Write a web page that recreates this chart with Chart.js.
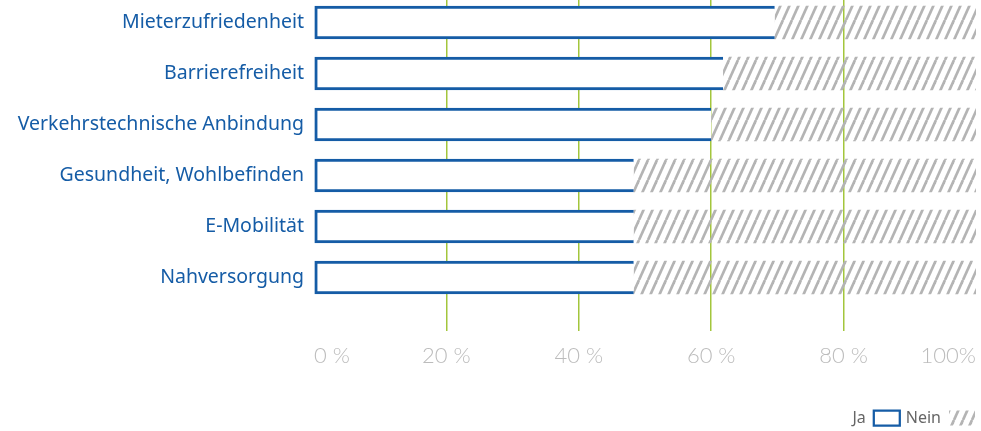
<!DOCTYPE html>
<html lang="de">
<head>
<meta charset="utf-8">
<title>Bewertung</title>
<script src="https://cdn.jsdelivr.net/npm/chart.js@4.4.1/dist/chart.umd.min.js"></script>
<style>
  html, body { margin: 0; padding: 0; background: #fff; }
  #wrap { position: relative; width: 981px; height: 431px; }
</style>
</head>
<body>
<div id="wrap"><canvas id="umfrage"></canvas></div>
<script>
const categories = [
  'Mieterzufriedenheit',
  'Barrierefreiheit',
  'Verkehrstechnische Anbindung',
  'Gesundheit, Wohlbefinden',
  'E-Mobilität',
  'Nahversorgung'
];
const jaValues = [69.6, 61.8, 60.0, 48.3, 48.3, 48.3];
const neinValues = [30.4, 38.2, 40.0, 51.7, 51.7, 51.7];
const xTicks = [0, 20, 40, 60, 80, 100];
const xTickLabels = ['0 %', '20 %', '40 %', '60 %', '80 %', '100%'];

const BLUE = '#155ca6';
const GRID = '#a3c63c';

// diagonal hatch for the "Nein" share
function makeHatch() {
  const w = 9, h = 20;
  const c = document.createElement('canvas');
  c.width = w; c.height = h;
  const g = c.getContext('2d');
  g.strokeStyle = '#b4b4b4';
  g.lineWidth = 2.7;
  for (let k = -1; k <= 1; k++) {
    g.beginPath();
    g.moveTo(k * w, h);
    g.lineTo(k * w + w, 0);
    g.stroke();
  }
  return g.createPattern(c, 'repeat');
}
const hatch = makeHatch();

const toPoints = arr => arr.map((v, i) => ({ x: v, y: i }));

new Chart(document.getElementById('umfrage'), {
  type: 'bar',
  data: {
    datasets: [
      {
        label: 'Ja',
        data: toPoints(jaValues),
        backgroundColor: '#ffffff',
        borderColor: BLUE,
        borderWidth: { left: 3, top: 3, bottom: 3, right: 0 },
        borderSkipped: false
      },
      {
        label: 'Nein',
        data: toPoints(neinValues),
        backgroundColor: hatch,
        borderWidth: 0
      }
    ]
  },
  options: {
    indexAxis: 'y',
    responsive: true,
    maintainAspectRatio: false,
    animation: false,
    barThickness: 33,
    layout: { padding: { top: 0, right: 0, left: 0, bottom: -5 } },
    scales: {
      x: {
        stacked: true,
        min: 0,
        max: 100,
        afterBuildTicks: scale => { scale.ticks = xTicks.map(v => ({ value: v })); },
        afterFit: scale => {
          scale.height = 73;
          scale.paddingLeft = 0;
          scale.paddingRight = 5;
        },
        grid: {
          drawTicks: false,
          lineWidth: 1.5,
          color: ctx => (ctx.tick && (ctx.tick.value === 0 || ctx.tick.value === 100)) ? 'rgba(0,0,0,0)' : GRID
        },
        border: { display: false },
        ticks: {
          align: 'inner',
          padding: 12,
          color: '#bcbcbc',
          font: { family: 'Lato', size: 22, weight: 300 },
          callback: (v, i) => xTickLabels[i]
        }
      },
      y: {
        type: 'linear',
        stacked: true,
        reverse: true,
        offset: false,
        bounds: 'data',
        min: -0.441,
        max: 6.05,
        afterBuildTicks: scale => { scale.ticks = categories.map((_, i) => ({ value: i })); },
        afterFit: scale => {
          scale.width = 314;
          scale.paddingTop = 0;
          scale.paddingBottom = 0;
        },
        grid: { display: false, drawTicks: false },
        border: { display: false },
        ticks: {
          padding: 10,
          color: BLUE,
          font: { family: 'Noto Sans', size: 19.5 },
          callback: v => categories[v]
        }
      }
    },
    plugins: {
      tooltip: { enabled: false },
      legend: {
        position: 'bottom',
        align: 'start',
        rtl: true,
        reverse: true,
        labels: {
          boxWidth: 26,
          boxHeight: 15,
          padding: 6,
          color: '#666666',
          font: { family: 'Noto Sans', size: 16 }
        }
      }
    }
  }
});
</script>
</body>
</html>
